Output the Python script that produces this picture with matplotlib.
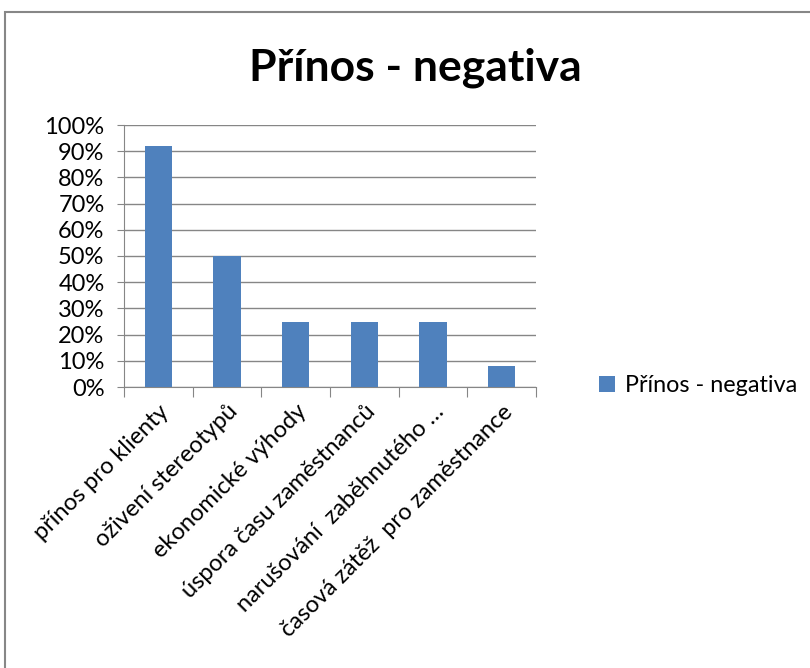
import matplotlib.pyplot as plt
from matplotlib.patches import Rectangle
from matplotlib.ticker import PercentFormatter

# data
categories = ["přínos pro klienty", "oživení stereotypů", "ekonomické výhody",
              "úspora času zaměstnanců", "narušování  zaběhnutého …",
              "časová zátěž  pro zaměstnance"]
values = [92, 50, 25, 25, 25, 8]
series_name = "Přínos - negativa"
title = "Přínos - negativa"

plt.rcParams['font.family'] = ['Lato', 'DejaVu Sans']

fig = plt.figure(figsize=(8.1, 6.68), dpi=100)
fig.patches.append(Rectangle((5 / 810, -0.1), 1.2, 1 - 12 / 668 + 0.1,
                             transform=fig.transFigure, fill=False,
                             edgecolor="#878787", linewidth=1.5))

ax = fig.add_axes([124 / 810, 1 - 387 / 668, 412 / 810, 262 / 668])
x = list(range(len(categories)))
ax.bar(x, values, width=0.4, color="#4F81BD", label=series_name, zorder=3)

ax.set_xlim(-0.5, len(categories) - 0.5)
ax.set_ylim(0, 100)
ax.set_yticks(range(0, 101, 10))
ax.yaxis.set_major_formatter(PercentFormatter(decimals=0))
ax.grid(axis="y", color="#868686", linewidth=1.0, zorder=0)

# category ticks on boundaries, labels at centres
ax.set_xticks([i - 0.5 for i in range(len(categories) + 1)])
ax.set_xticklabels([])
ax.set_xticks(x, minor=True)
ax.set_xticklabels(categories, minor=True, rotation=45, ha="right",
                   rotation_mode="anchor", fontsize=17, color="#000000")
ax.tick_params(axis="x", which="minor", length=0, pad=10)
ax.tick_params(axis="x", which="major", length=7, color="#868686")
ax.tick_params(axis="y", length=5, color="#868686", labelsize=17, pad=9)

for side in ["top", "right"]:
    ax.spines[side].set_visible(False)
ax.spines["left"].set_color("#868686")
ax.spines["bottom"].set_color("#868686")

fig.text(415 / 810, 1 - 68 / 668, title, ha="center", va="center",
         fontsize=32, fontweight="bold")

fig.legend(handles=ax.get_legend_handles_labels()[0],
           labels=[series_name], loc="center left",
           bbox_to_anchor=(578 / 810, 1 - 386 / 668), frameon=False,
           fontsize=16.8, handlelength=0.7, handleheight=0.7,
           handletextpad=0.4)

fig.savefig("out.png", dpi=100, facecolor="white")
